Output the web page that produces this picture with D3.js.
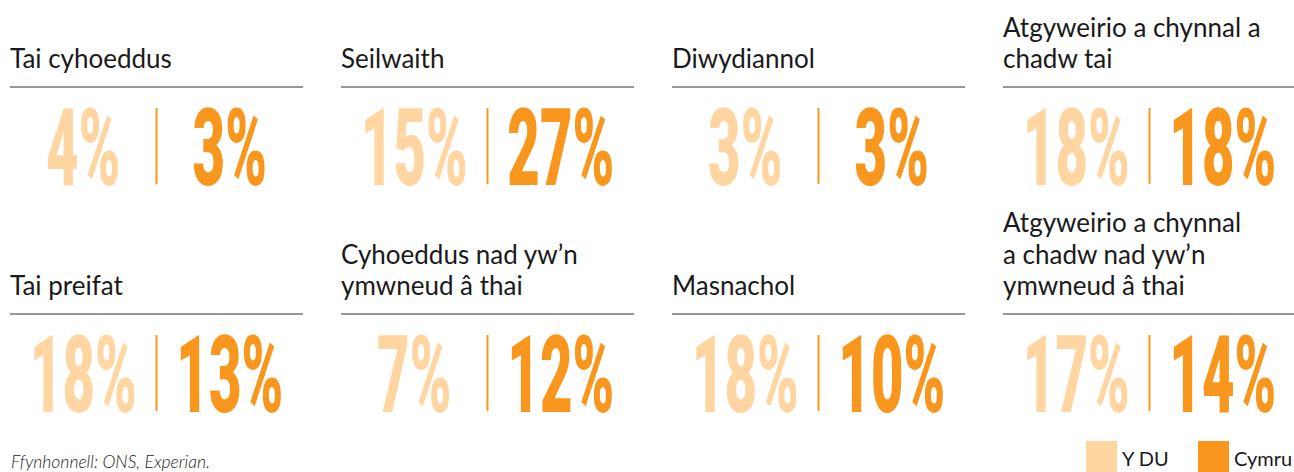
<!DOCTYPE html>
<html>
<head>
<meta charset="utf-8">
<script src="https://cdn.jsdelivr.net/npm/d3@7"></script>
<style>
  body { margin: 0; background: #fff; }
  svg { display: block; }
</style>
</head>
<body>
<svg id="chart" width="1294" height="472"></svg>
<script>
// sector titles (line breaks as in the source), row by row
const sectors = [
  ['Tai cyhoeddus'],
  ['Seilwaith'],
  ['Diwydiannol'],
  ['Atgyweirio a chynnal a', 'chadw tai'],
  ['Tai preifat'],
  ['Cyhoeddus nad yw’n', 'ymwneud â thai'],
  ['Masnachol'],
  ['Atgyweirio a chynnal', 'a chadw nad yw’n', 'ymwneud â thai']
];
const ukShare = [4, 15, 3, 18, 18, 7, 18, 17];
const walesShare = [3, 27, 3, 18, 13, 12, 10, 14];
const legendLabels = ['Y DU', 'Cymru'];
const sourceNote = 'Ffynhonnell: ONS, Experian.';

const light = '#FFD6A1';
const orange = '#F8961D';
const ink = '#1a1a1a';

const svg = d3.select('#chart');
const cols = 4;
const colWidth = 293;
const numScaleX = 0.52;

const x = d3.scaleLinear().domain([0, 1]).range([10, 341]);
const ruleY = d3.scaleLinear().domain([0, 1]).range([87, 314]);
const fmt = d => d + '%';

const data = sectors.map((s, i) => ({
  title: s, uk: ukShare[i], wales: walesShare[i],
  col: i % cols, row: Math.floor(i / cols)
}));

const cell = svg.selectAll('g.cell')
  .data(data)
  .join('g')
  .attr('class', 'cell')
  .attr('transform', d => `translate(${x(d.col)},${ruleY(d.row)})`);

// titles, last line sits just above the rule
cell.append('text')
  .attr('font-family', 'Lato, sans-serif')
  .attr('font-weight', 400)
  .attr('font-size', 26)
  .attr('fill', ink)
  .selectAll('tspan')
  .data(d => d.title.map((t, j) => ({ t, k: d.title.length - 1 - j })))
  .join('tspan')
  .attr('x', 0)
  .attr('y', d => -19 - d.k * 31.5)
  .text(d => d.t);

cell.append('line')
  .attr('x1', 0).attr('x2', colWidth)
  .attr('y1', 0).attr('y2', 0)
  .attr('stroke', '#333')
  .attr('stroke-width', 1.2);

cell.append('line')
  .attr('x1', colWidth / 2).attr('x2', colWidth / 2)
  .attr('y1', 21).attr('y2', 97)
  .attr('stroke', orange)
  .attr('stroke-width', 2);

const halfCenter = [colWidth / 4, colWidth * 3 / 4];

function addNumber(sel, key, hx, colour) {
  sel.append('g')
    .attr('transform', `translate(${hx},98) scale(${numScaleX},1)`)
    .append('text')
    .attr('text-anchor', 'middle')
    .attr('font-family', 'Roboto, sans-serif')
    .attr('font-weight', 900)
    .attr('font-size', 108)
    .attr('fill', colour)
    .text(d => fmt(d[key]));
}
addNumber(cell, 'uk', halfCenter[0], light);
addNumber(cell, 'wales', halfCenter[1], orange);

// source
svg.append('text')
  .attr('x', 11).attr('y', 468)
  .attr('font-family', 'Lato, sans-serif')
  .attr('font-style', 'italic')
  .attr('font-weight', 300)
  .attr('font-size', 17.5)
  .attr('fill', '#222')
  .text(sourceNote);

// legend
const legend = svg.selectAll('g.legend')
  .data(legendLabels)
  .join('g')
  .attr('class', 'legend')
  .attr('transform', (d, i) => `translate(${1086 + i * 112},441)`);

legend.append('rect')
  .attr('width', 31).attr('height', 33)
  .attr('fill', (d, i) => i ? orange : light);

legend.append('text')
  .attr('x', 36).attr('y', 25)
  .attr('font-family', 'Lato, sans-serif')
  .attr('font-weight', 400)
  .attr('font-size', 20)
  .attr('fill', ink)
  .text(d => d);
</script>
</body>
</html>
